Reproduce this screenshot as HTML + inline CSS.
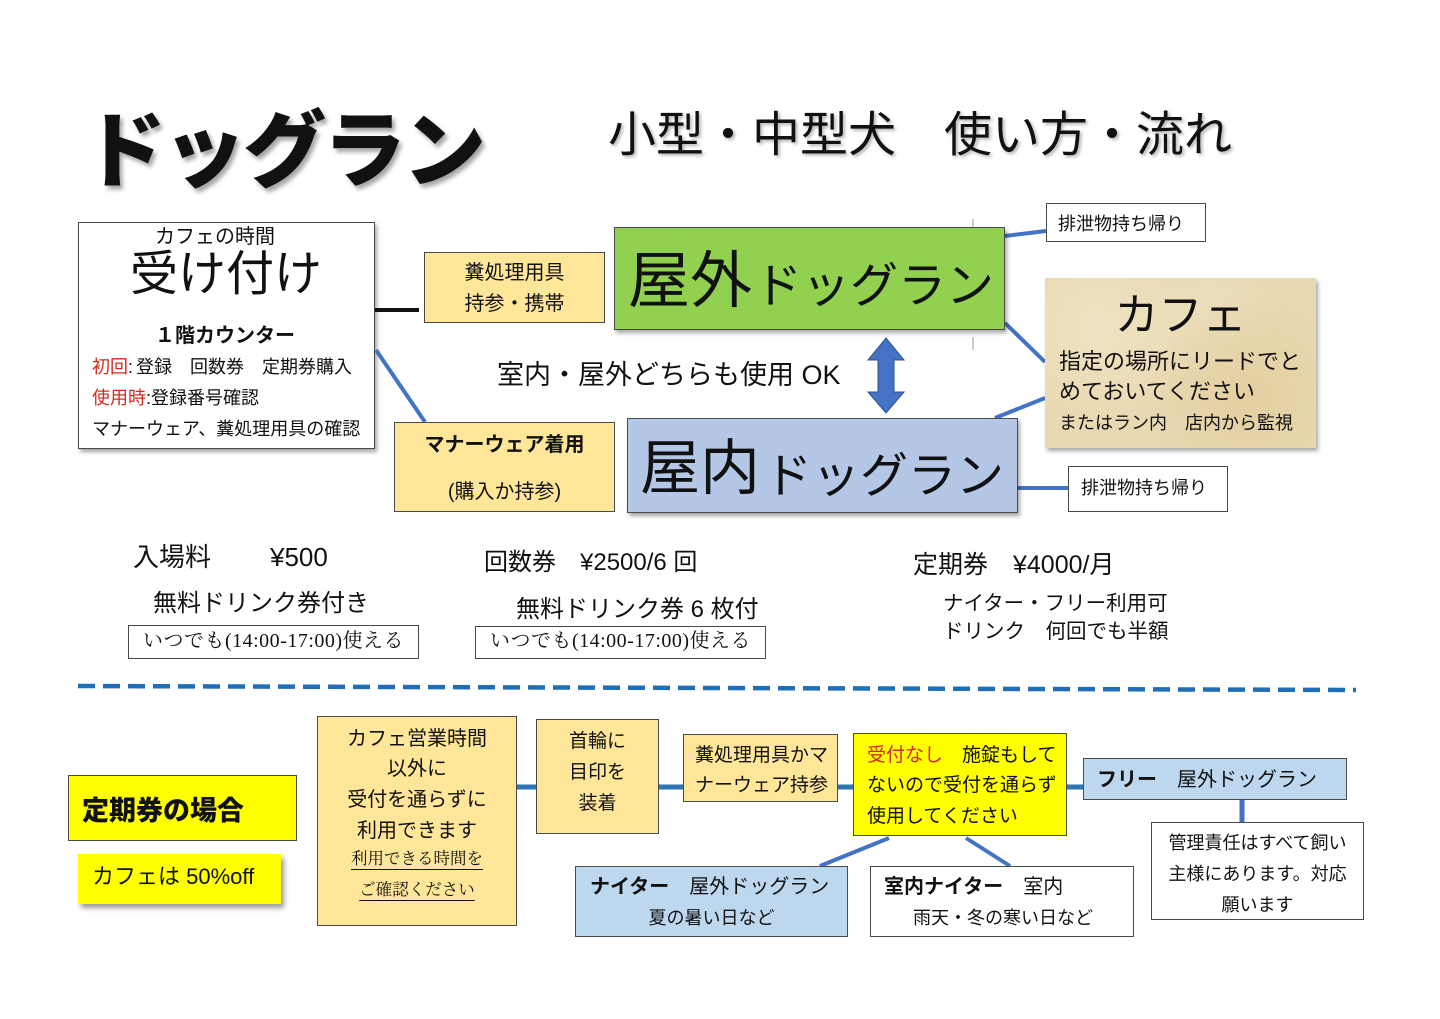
<!DOCTYPE html>
<html lang="ja">
<head>
<meta charset="utf-8">
<style>
  html,body{margin:0;padding:0;background:#fff;}
  body{width:1440px;height:1019px;position:relative;overflow:hidden;
    font-family:"Liberation Sans","Noto Sans CJK JP",sans-serif;color:#111;}
  .t{position:absolute;white-space:nowrap;line-height:1;}
  .b{position:absolute;box-sizing:border-box;border:1px solid #4a4a4a;}
  .sh{box-shadow:2px 3px 4px rgba(0,0,0,0.35);}
  .org{background:#ffe699;}
  .yel{background:#ffff00;}
  .lb{background:#bdd7ee;}
  .serif{font-family:"Liberation Serif","Noto Serif CJK SC",serif;}
  .red{color:#d42a1e;}
  svg{position:absolute;left:0;top:0;}
</style>
</head>
<body>

<!-- Title -->
<div class="t" style="left:83px;top:110px;font-size:83px;font-weight:900;letter-spacing:-3px;text-shadow:3px 4px 4px rgba(0,0,0,0.35);">ドッグラン</div>
<div class="t" style="left:608px;top:112px;font-size:48px;font-weight:400;text-shadow:2px 2px 3px rgba(0,0,0,0.3);">小型・中型犬　使い方・流れ</div>

<!-- Reception box -->
<div class="b sh" style="left:78px;top:222px;width:297px;height:227px;background:#fff;"></div>
<div class="t" style="left:155px;top:227px;font-size:20px;">カフェの時間</div>
<div class="t" style="left:130px;top:251px;font-size:48px;">受け付け</div>
<div class="t" style="left:155px;top:326px;font-size:20px;font-weight:700;">１階カウンター</div>
<div class="t" style="left:92px;top:358px;font-size:18px;"><span class="red">初回</span><span style="letter-spacing:3px;">:</span>登録　回数券　定期券購入</div>
<div class="t" style="left:92px;top:389px;font-size:18px;"><span class="red">使用時</span>:登録番号確認</div>
<div class="t" style="left:92px;top:420px;font-size:18px;">マナーウェア、糞処理用具の確認</div>

<!-- Connectors -->
<svg width="1440" height="1019" viewBox="0 0 1440 1019" style="z-index:0;">
  <line x1="375" y1="310" x2="419" y2="310" stroke="#111" stroke-width="4"/>
  <line x1="376" y1="350" x2="425" y2="422" stroke="#4472c4" stroke-width="4"/>
  <line x1="1005" y1="236" x2="1046" y2="231" stroke="#4472c4" stroke-width="4"/>
  <line x1="1005" y1="323" x2="1045" y2="362" stroke="#4472c4" stroke-width="4"/>
  <line x1="995" y1="418" x2="1045" y2="398" stroke="#4472c4" stroke-width="4"/>
  <line x1="1018" y1="488" x2="1068" y2="488" stroke="#4472c4" stroke-width="4"/>
  <line x1="973" y1="219" x2="973" y2="232" stroke="#999" stroke-width="1"/>
  <line x1="973" y1="337" x2="973" y2="350" stroke="#999" stroke-width="1"/>
  <line x1="78" y1="686" x2="1356" y2="690" stroke="#1f6fb8" stroke-width="4.5" stroke-dasharray="17 8"/>
  <line x1="517" y1="787" x2="536" y2="787" stroke="#2e75b6" stroke-width="5"/>
  <line x1="659" y1="787" x2="683" y2="787" stroke="#2e75b6" stroke-width="5"/>
  <line x1="838" y1="787" x2="853" y2="787" stroke="#2e75b6" stroke-width="5"/>
  <line x1="1067" y1="787" x2="1083" y2="787" stroke="#2e75b6" stroke-width="5"/>
  <line x1="1242" y1="800" x2="1242" y2="822" stroke="#4472c4" stroke-width="5"/>
  <line x1="889" y1="838" x2="820" y2="866" stroke="#4472c4" stroke-width="4"/>
  <line x1="966" y1="838" x2="1010" y2="866" stroke="#4472c4" stroke-width="4"/>
  <polygon points="886,338 904,360 894,360 894,392 904,392 886,413 868,392 878,392 878,360 868,360" fill="#4472c4" stroke="#2f528f" stroke-width="1"/>
</svg>

<!-- Yellow box 1 -->
<div class="b org" style="left:424px;top:252px;width:181px;height:71px;"></div>
<div class="t" style="left:424px;width:181px;text-align:center;top:263px;font-size:20px;">糞処理用具</div>
<div class="t" style="left:424px;width:181px;text-align:center;top:294px;font-size:20px;">持参・携帯</div>

<!-- Outdoor green -->
<div class="b sh" style="left:614px;top:227px;width:391px;height:103px;background:#92d050;"></div>
<div class="t" style="left:628px;top:251px;font-size:62px;">屋外</div>
<div class="t" style="left:754px;top:263px;font-size:48px;">ドッグラン</div>

<div class="t" style="left:497px;top:362px;font-size:27px;">室内・屋外どちらも使用 OK</div>

<!-- Indoor blue -->
<div class="b sh" style="left:627px;top:418px;width:391px;height:95px;background:#b4c7e7;"></div>
<div class="t" style="left:640px;top:439px;font-size:60px;">屋内</div>
<div class="t" style="left:764px;top:453px;font-size:48px;">ドッグラン</div>

<!-- Manner wear -->
<div class="b org" style="left:394px;top:422px;width:221px;height:90px;"></div>
<div class="t" style="left:394px;width:221px;text-align:center;top:435px;font-size:20px;font-weight:700;">マナーウェア着用</div>
<div class="t" style="left:394px;width:221px;text-align:center;top:482px;font-size:20px;">(購入か持参)</div>

<!-- Right side -->
<div class="b" style="left:1046px;top:203px;width:160px;height:39px;background:#fff;"></div>
<div class="t" style="left:1058px;top:215px;font-size:18px;">排泄物持ち帰り</div>

<div class="sh" style="position:absolute;left:1045px;top:278px;width:271px;height:170px;background:radial-gradient(circle at 20% 30%,#f0e3c2 0,transparent 40%),radial-gradient(circle at 75% 70%,#e3cfa0 0,transparent 45%),radial-gradient(circle at 60% 20%,#ecdfbd 0,transparent 35%),#e9d9b2;"></div>
<div class="t" style="left:1045px;width:271px;text-align:center;top:294px;font-size:44px;">カフェ</div>
<div class="t" style="left:1059px;top:351px;font-size:22px;">指定の場所にリードでと</div>
<div class="t" style="left:1059px;top:381px;font-size:22px;">めておいてください</div>
<div class="t" style="left:1059px;top:414px;font-size:18px;">またはラン内　店内から監視</div>

<div class="b" style="left:1068px;top:466px;width:160px;height:46px;background:#fff;"></div>
<div class="t" style="left:1081px;top:479px;font-size:18px;">排泄物持ち帰り</div>

<!-- Pricing -->
<div class="t" style="left:133px;top:544px;font-size:26px;">入場料</div>
<div class="t" style="left:270px;top:544px;font-size:26px;">¥500</div>
<div class="t" style="left:153px;top:592px;font-size:24px;">無料ドリンク券付き</div>
<div class="b" style="left:128px;top:625px;width:291px;height:34px;background:#fff;"></div>
<div class="t serif" style="left:128px;width:291px;text-align:center;top:631px;font-size:20px;letter-spacing:0.5px;">いつでも(14:00-17:00)使える</div>

<div class="t" style="left:484px;top:551px;font-size:24px;">回数券　¥2500/6 回</div>
<div class="t" style="left:516px;top:598px;font-size:24px;">無料ドリンク券 6 枚付</div>
<div class="b" style="left:475px;top:626px;width:291px;height:33px;background:#fff;"></div>
<div class="t serif" style="left:475px;width:291px;text-align:center;top:631px;font-size:20px;letter-spacing:0.5px;">いつでも(14:00-17:00)使える</div>

<div class="t" style="left:913px;top:553px;font-size:25px;">定期券　¥4000/月</div>
<div class="t" style="left:943px;top:594px;font-size:20.5px;">ナイター・フリー利用可</div>
<div class="t" style="left:943px;top:622px;font-size:20.5px;">ドリンク　何回でも半額</div>

<!-- Lower section -->
<div class="b yel" style="left:68px;top:775px;width:229px;height:66px;"></div>
<div class="t" style="left:82px;top:798px;font-size:27px;font-weight:900;">定期券の場合</div>

<div class="yel" style="position:absolute;left:78px;top:854px;width:203px;height:50px;box-shadow:3px 4px 5px rgba(0,0,0,0.4);"></div>
<div class="t" style="left:92px;top:866px;font-size:22px;">カフェは 50%off</div>

<div class="b org" style="left:317px;top:716px;width:200px;height:210px;"></div>
<div class="t" style="left:317px;width:200px;text-align:center;top:729px;font-size:20px;">カフェ営業時間</div>
<div class="t" style="left:317px;width:200px;text-align:center;top:759px;font-size:20px;">以外に</div>
<div class="t" style="left:317px;width:200px;text-align:center;top:790px;font-size:20px;">受付を通らずに</div>
<div class="t" style="left:317px;width:200px;text-align:center;top:821px;font-size:20px;">利用できます</div>
<div class="t serif" style="left:317px;width:200px;text-align:center;top:851px;font-size:16.5px;"><span style="text-decoration:underline;text-underline-offset:5px;">利用できる時間を</span></div>
<div class="t serif" style="left:317px;width:200px;text-align:center;top:882px;font-size:16.5px;"><span style="text-decoration:underline;text-underline-offset:5px;">ご確認ください</span></div>

<div class="b org" style="left:536px;top:719px;width:123px;height:115px;"></div>
<div class="t" style="left:536px;width:123px;text-align:center;top:732px;font-size:19px;">首輪に</div>
<div class="t" style="left:536px;width:123px;text-align:center;top:763px;font-size:19px;">目印を</div>
<div class="t" style="left:536px;width:123px;text-align:center;top:794px;font-size:19px;">装着</div>

<div class="b org" style="left:683px;top:734px;width:155px;height:68px;"></div>
<div class="t" style="left:695px;top:746px;font-size:19px;">糞処理用具かマ</div>
<div class="t" style="left:695px;top:776px;font-size:19px;">ナーウェア持参</div>

<div class="b yel" style="left:853px;top:733px;width:214px;height:103px;"></div>
<div class="t" style="left:867px;top:746px;font-size:19px;"><span class="red">受付なし</span>　施錠もして</div>
<div class="t" style="left:867px;top:776px;font-size:19px;">ないので受付を通らず</div>
<div class="t" style="left:867px;top:807px;font-size:19px;">使用してください</div>

<div class="b lb" style="left:1083px;top:758px;width:264px;height:42px;"></div>
<div class="t" style="left:1097px;top:770px;font-size:20px;"><b>フリー</b>　屋外ドッグラン</div>

<div class="b" style="left:1151px;top:822px;width:213px;height:98px;background:#fff;"></div>
<div class="t" style="left:1151px;width:213px;text-align:center;top:834px;font-size:18px;">管理責任はすべて飼い</div>
<div class="t" style="left:1151px;width:213px;text-align:center;top:865px;font-size:18px;">主様にあります。対応</div>
<div class="t" style="left:1151px;width:213px;text-align:center;top:896px;font-size:18px;">願います</div>

<div class="b lb" style="left:575px;top:866px;width:273px;height:71px;"></div>
<div class="t" style="left:590px;top:877px;font-size:20px;"><b>ナイター</b>　屋外ドッグラン</div>
<div class="t" style="left:575px;width:273px;text-align:center;top:909px;font-size:18px;">夏の暑い日など</div>

<div class="b" style="left:870px;top:866px;width:264px;height:71px;background:#fff;"></div>
<div class="t" style="left:884px;top:877px;font-size:20px;"><b>室内ナイター</b>　室内</div>
<div class="t" style="left:913px;top:909px;font-size:18px;">雨天・冬の寒い日など</div>

</body>
</html>
